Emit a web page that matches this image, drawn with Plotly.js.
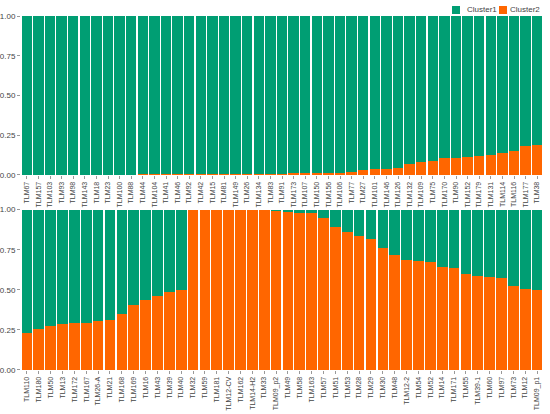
<!DOCTYPE html>
<html>
<head>
<meta charset="utf-8">
<script src="https://cdn.plot.ly/plotly-3.0.1.min.js"></script>
<style>html,body{margin:0;padding:0;background:#fff;}#chart{width:550px;height:414px;}</style>
</head>
<body>
<div id="chart"></div>
<script>
// Top panel samples
var topLabels = ["TLM67","TLM157","TLM103","TLM93","TLM98","TLM143","TLM18","TLM23","TLM100","TLM88","TLM44","TLM104","TLM41","TLM46","TLM92","TLM42","TLM15","TLM81","TLM149","TLM26","TLM134","TLM83","TLM91","TLM173","TLM107","TLM150","TLM156","TLM106","TLM77","TLM27","TLM101","TLM146","TLM126","TLM132","TLM109","TLM75","TLM170","TLM90","TLM152","TLM179","TLM131","TLM114","TLM116","TLM177","TLM38"];
var topCluster2 = [0.000,0.000,0.001,0.001,0.001,0.001,0.001,0.001,0.002,0.002,0.003,0.004,0.004,0.005,0.005,0.005,0.006,0.006,0.007,0.007,0.008,0.008,0.009,0.010,0.010,0.012,0.013,0.015,0.020,0.031,0.035,0.039,0.045,0.070,0.083,0.090,0.106,0.107,0.115,0.122,0.123,0.138,0.148,0.184,0.188];
var topCluster1 = [1.000,1.000,0.999,0.999,0.999,0.999,0.999,0.999,0.998,0.998,0.997,0.996,0.996,0.995,0.995,0.995,0.994,0.994,0.993,0.993,0.992,0.992,0.991,0.990,0.990,0.988,0.987,0.985,0.980,0.969,0.965,0.961,0.955,0.930,0.917,0.910,0.894,0.893,0.885,0.878,0.877,0.862,0.852,0.816,0.812];

// Bottom panel samples
var bottomLabels = ["TLM110","TLM180","TLM50","TLM13","TLM172","TLM167","TLM26-A","TLM21","TLM168","TLM169","TLM16","TLM43","TLM39","TLM40","TLM32","TLM59","TLM181","TLM12-CV","TLM162","TLM14-H2","TLM33","TLM09_p2","TLM49","TLM58","TLM163","TLM57","TLM51","TLM53","TLM28","TLM29","TLM30","TLM48","TLM12-2","TLM54","TLM52","TLM14","TLM171","TLM55","TLM39-1","TLM60","TLM97","TLM73","TLM12","TLM09_p1"];
var bottomCluster2 = [0.233,0.254,0.275,0.285,0.291,0.294,0.305,0.314,0.350,0.405,0.437,0.462,0.484,0.497,0.996,0.997,0.997,0.997,0.996,0.995,0.995,0.993,0.985,0.980,0.980,0.950,0.892,0.862,0.835,0.818,0.758,0.720,0.684,0.680,0.676,0.643,0.638,0.597,0.589,0.580,0.574,0.522,0.505,0.500];
var bottomCluster1 = [0.767,0.746,0.725,0.715,0.709,0.706,0.695,0.686,0.650,0.595,0.563,0.538,0.516,0.503,0.004,0.003,0.003,0.003,0.004,0.005,0.005,0.007,0.015,0.020,0.020,0.050,0.108,0.138,0.165,0.182,0.242,0.280,0.316,0.320,0.324,0.357,0.362,0.403,0.411,0.420,0.426,0.478,0.495,0.500];

var seriesNames = ["Cluster1","Cluster2"];
var colors = {Cluster1:"#009E73", Cluster2:"#FF6600"};

var traces = [
  {type:"bar", name:seriesNames[1], x:topLabels, y:topCluster2, xaxis:"x", yaxis:"y",
   marker:{color:colors.Cluster2}, legendgroup:"c2", showlegend:false},
  {type:"bar", name:seriesNames[0], x:topLabels, y:topCluster1, xaxis:"x", yaxis:"y",
   marker:{color:colors.Cluster1}, legendgroup:"c1", showlegend:false},
  {type:"bar", name:seriesNames[1], x:bottomLabels, y:bottomCluster2, xaxis:"x2", yaxis:"y2",
   marker:{color:colors.Cluster2}, legendgroup:"c2", showlegend:false},
  {type:"bar", name:seriesNames[0], x:bottomLabels, y:bottomCluster1, xaxis:"x2", yaxis:"y2",
   marker:{color:colors.Cluster1}, legendgroup:"c1", showlegend:false}
];

var FONT = "Liberation Sans, Arial, sans-serif";
var tickFont = {family:FONT, size:7, color:"#444"};
var yTickFont = {family:FONT, size:8, color:"#444"};

function xAx(anchor){
  return {anchor:anchor, type:"category", tickangle:-90, tickfont:tickFont,
          ticks:"outside", ticklen:3, tickcolor:"#999", showgrid:false, zeroline:false,
          showline:false, automargin:false};
}
function yAx(domain, anchor){
  return {domain:domain, anchor:anchor, range:[0,1], tickvals:[0,0.25,0.5,0.75,1],
          tickformat:".2f", tickfont:yTickFont, ticks:"outside", ticklen:3, tickcolor:"#999",
          showgrid:false, zeroline:false, showline:false, automargin:false};
}

// Legend (keys drawn as squares + real text labels)
var legendItems = [
  {name:seriesNames[0], color:colors.Cluster1, x0:0.8257, x1:0.8410, tx:0.9138},
  {name:seriesNames[1], color:colors.Cluster2, x0:0.9157, x1:0.9310, tx:0.996}
];
var shapes = [], annotations = [];
legendItems.forEach(function(it){
  shapes.push({type:"rect", xref:"paper", yref:"paper", x0:it.x0, x1:it.x1, y0:1.0056, y1:1.0282,
               fillcolor:it.color, line:{width:0}});
  annotations.push({xref:"paper", yref:"paper", x:it.tx, y:1.0175, xanchor:"right", yanchor:"middle",
                    text:it.name, showarrow:false, borderpad:0,
                    font:{family:FONT, size:8, color:"#444"}});
});

var layout = {
  width:550, height:414,
  margin:{l:21, r:7, t:16, b:44, pad:0, autoexpand:false},
  paper_bgcolor:"#fff", plot_bgcolor:"#fff",
  barmode:"stack", bargap:0.1,
  font:{family:FONT, color:"#444"},
  xaxis:xAx("y"),
  yaxis:yAx([0.551,1],"x"),
  xaxis2:xAx("y2"),
  yaxis2:yAx([0,0.453],"x2"),
  showlegend:false,
  shapes:shapes,
  annotations:annotations
};

Plotly.newPlot("chart", traces, layout, {displayModeBar:false, staticPlot:true});
</script>
</body>
</html>
